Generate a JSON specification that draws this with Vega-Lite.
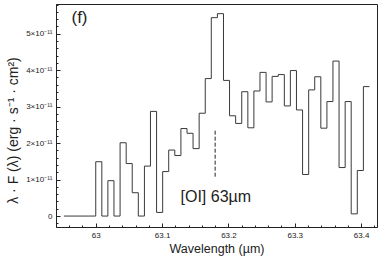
{
  "$schema": "https://vega.github.io/schema/vega-lite/v6.json",
  "width": 321,
  "height": 223,
  "autosize": "none",
  "padding": {"left": 56, "top": 4, "right": 5, "bottom": 41},
  "background": "white",
  "config": {
    "view": {"stroke": "#222", "strokeWidth": 1},
    "font": "Liberation Sans",
    "axis": {"labelFont": "Liberation Sans", "titleFont": "Liberation Sans", "grid": false, "domainColor": "#222", "tickColor": "#222", "labelColor": "#222", "titleColor": "#222", "titleFontWeight": "normal"}
  },
  "resolve": {"axis": {"x": "independent", "y": "independent"}},
  "datasets": {
    "spec": [
      {"wl": 62.952, "flux": 0},
      {"wl": 63.0, "flux": 1.49e-11},
      {"wl": 63.0092, "flux": 0},
      {"wl": 63.0183, "flux": 0.97e-11},
      {"wl": 63.0275, "flux": 0},
      {"wl": 63.0367, "flux": 2.01e-11},
      {"wl": 63.0459, "flux": 1.44e-11},
      {"wl": 63.055, "flux": 0.64e-11},
      {"wl": 63.0642, "flux": 0},
      {"wl": 63.0734, "flux": 1.37e-11},
      {"wl": 63.0825, "flux": 2.87e-11},
      {"wl": 63.0917, "flux": 0.10e-11},
      {"wl": 63.1009, "flux": 1.22e-11},
      {"wl": 63.11, "flux": 1.81e-11},
      {"wl": 63.1192, "flux": 1.66e-11},
      {"wl": 63.1284, "flux": 2.40e-11},
      {"wl": 63.1376, "flux": 2.27e-11},
      {"wl": 63.1467, "flux": 1.85e-11},
      {"wl": 63.1559, "flux": 2.82e-11},
      {"wl": 63.1651, "flux": 3.77e-11},
      {"wl": 63.1742, "flux": 5.44e-11},
      {"wl": 63.1834, "flux": 5.55e-11},
      {"wl": 63.1926, "flux": 3.72e-11},
      {"wl": 63.2017, "flux": 2.75e-11},
      {"wl": 63.2109, "flux": 2.54e-11},
      {"wl": 63.2201, "flux": 3.41e-11},
      {"wl": 63.2293, "flux": 2.42e-11},
      {"wl": 63.2384, "flux": 3.43e-11},
      {"wl": 63.2476, "flux": 3.94e-11},
      {"wl": 63.2568, "flux": 3.13e-11},
      {"wl": 63.2659, "flux": 3.83e-11},
      {"wl": 63.2751, "flux": 3.88e-11},
      {"wl": 63.2843, "flux": 3.02e-11},
      {"wl": 63.2934, "flux": 3.99e-11},
      {"wl": 63.3026, "flux": 2.91e-11},
      {"wl": 63.3118, "flux": 1.14e-11},
      {"wl": 63.321, "flux": 3.46e-11},
      {"wl": 63.3301, "flux": 3.82e-11},
      {"wl": 63.3393, "flux": 2.41e-11},
      {"wl": 63.3485, "flux": 3.14e-11},
      {"wl": 63.3576, "flux": 4.25e-11},
      {"wl": 63.3668, "flux": 1.33e-11},
      {"wl": 63.376, "flux": 3.14e-11},
      {"wl": 63.3851, "flux": 0.06e-11},
      {"wl": 63.3943, "flux": 1.25e-11},
      {"wl": 63.4035, "flux": 3.55e-11},
      {"wl": 63.4126, "flux": 3.55e-11}
    ],
    "marker": [{"wl": 63.18, "lo": 1.08e-11, "hi": 2.38e-11}],
    "labels": [
      {"wl": 63.181, "flux": 0.53e-11, "text": "[OI] 63µm", "kind": "line"},
      {"wl": 62.9755, "flux": 5.42e-11, "text": "(f)", "kind": "panel"}
    ]
  },
  "layer": [
    {
      "data": {"name": "spec"},
      "mark": {"type": "line", "interpolate": "step-after", "color": "#3a3a3a", "strokeWidth": 1, "clip": true},
      "encoding": {
        "x": {
          "field": "wl", "type": "quantitative",
          "scale": {"domain": [62.9401, 63.424], "nice": false, "zero": false},
          "axis": {
            "orient": "bottom",
            "title": "Wavelength (µm)", "titleFontSize": 12.5, "titlePadding": 3,
            "values": [63, 63.1, 63.2, 63.3, 63.4], "format": "~g",
            "labelFontSize": 8, "tickSize": -4, "labelPadding": 8, "domain": true
          }
        },
        "y": {
          "field": "flux", "type": "quantitative",
          "scale": {"domain": [-0.3e-11, 5.815e-11], "nice": false, "zero": false},
          "axis": {
            "orient": "left",
            "title": "λ · F (λ) (erg · s⁻¹ · cm²)", "titleFontSize": 14, "titlePadding": 5, "titleY": 126,
            "values": [0, 1e-11, 2e-11, 3e-11, 4e-11, 5e-11],
            "labelExpr": "datum.value == 0 ? '0' : format(round(datum.value*1e11),'d') + '×10⁻¹¹'",
            "labelFontSize": 8, "tickSize": -4, "labelPadding": 8
          }
        }
      }
    },
    {
      "data": {"name": "spec"},
      "mark": {"type": "point", "opacity": 0},
      "encoding": {
        "x": {
          "field": "wl", "type": "quantitative",
          "axis": {"orient": "bottom", "title": null, "labels": false, "domain": false, "tickSize": -2,
            "values": [62.96, 62.98, 63.02, 63.04, 63.06, 63.08, 63.12, 63.14, 63.16, 63.18, 63.22, 63.24, 63.26, 63.28, 63.32, 63.34, 63.36, 63.38, 63.42]}
        },
        "y": {
          "field": "flux", "type": "quantitative",
          "axis": {"orient": "left", "title": null, "labels": false, "domain": false, "tickSize": -2,
            "values": [-0.2e-11, 0.2e-11, 0.4e-11, 0.6e-11, 0.8e-11, 1.2e-11, 1.4e-11, 1.6e-11, 1.8e-11, 2.2e-11, 2.4e-11, 2.6e-11, 2.8e-11, 3.2e-11, 3.4e-11, 3.6e-11, 3.8e-11, 4.2e-11, 4.4e-11, 4.6e-11, 4.8e-11, 5.2e-11, 5.4e-11, 5.6e-11, 5.8e-11]}
        }
      }
    },
    {
      "data": {"name": "marker"},
      "mark": {"type": "rule", "color": "#222", "strokeWidth": 1, "strokeDash": [4, 2]},
      "encoding": {
        "x": {"field": "wl", "type": "quantitative", "axis": null},
        "y": {"field": "lo", "type": "quantitative", "axis": null},
        "y2": {"field": "hi"}
      }
    },
    {
      "data": {"name": "labels"},
      "transform": [{"filter": "datum.kind == 'line'"}],
      "mark": {"type": "text", "fontSize": 16, "color": "#222", "baseline": "middle", "align": "center", "font": "Liberation Sans"},
      "encoding": {
        "x": {"field": "wl", "type": "quantitative", "axis": null},
        "y": {"field": "flux", "type": "quantitative", "axis": null},
        "text": {"field": "text"}
      }
    },
    {
      "data": {"name": "labels"},
      "transform": [{"filter": "datum.kind == 'panel'"}],
      "mark": {"type": "text", "fontSize": 17, "color": "#222", "baseline": "middle", "align": "center", "font": "Liberation Sans"},
      "encoding": {
        "x": {"field": "wl", "type": "quantitative", "axis": null},
        "y": {"field": "flux", "type": "quantitative", "axis": null},
        "text": {"field": "text"}
      }
    }
  ]
}
